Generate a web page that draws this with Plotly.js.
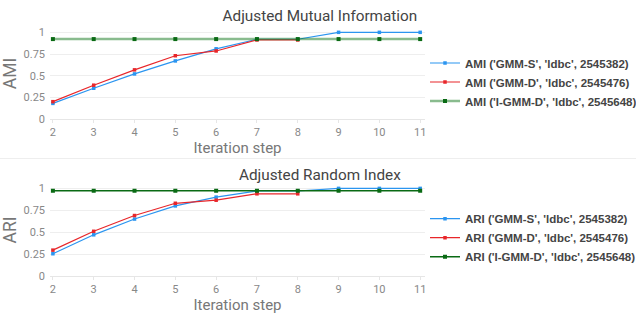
<!DOCTYPE html>
<html><head><meta charset="utf-8">
<script src="https://cdn.plot.ly/plotly-3.0.1.min.js"></script>
<style>
html,body{margin:0;padding:0;background:#fff;}
#c1{width:636px;height:158px;}
#sep{width:636px;height:1px;background:#eeeeee;}
#c2{width:636px;height:157px;}
</style></head>
<body>
<div id="c1"></div><div id="sep"></div><div id="c2"></div>
<script>
const steps = [2,3,4,5,6,7,8,9,10,11];
const stepsD = [2,3,4,5,6,7,8];

const amiGmmS = [0.18,0.355,0.52,0.67,0.81,0.92,0.92,1.0,1.0,1.0];
const amiGmmD = [0.20,0.39,0.567,0.73,0.785,0.912,0.912];
const amiIGmmD = [0.922,0.922,0.922,0.922,0.922,0.922,0.922,0.922,0.922,0.922];

const ariGmmS = [0.254,0.47,0.65,0.80,0.90,0.97,0.97,1.0,1.0,1.0];
const ariGmmD = [0.295,0.51,0.69,0.83,0.865,0.938,0.938];
const ariIGmmD = [0.973,0.973,0.973,0.973,0.973,0.973,0.973,0.973,0.973,0.973];

const labelsAmi = ["AMI ('GMM-S', 'ldbc', 2545382)","AMI ('GMM-D', 'ldbc', 2545476)","AMI ('I-GMM-D', 'ldbc', 2545648)"];
const labelsAri = ["ARI ('GMM-S', 'ldbc', 2545382)","ARI ('GMM-D', 'ldbc', 2545476)","ARI ('I-GMM-D', 'ldbc', 2545648)"];

const FONT = 'Roboto, "Open Sans", sans-serif';
const BLUE = '#2b95f0', RED = '#e8262a', GREEN = '#0a6a14';

function traces(s, d, g, labels, greenLine){
  return [
    {x: steps, y: s, name: labels[0], mode: 'lines+markers', line:{color:BLUE,width:1.2}, marker:{color:BLUE,size:3.5,symbol:'square'}},
    {x: stepsD, y: d, name: labels[1], mode: 'lines+markers', line:{color:RED,width:1.2}, marker:{color:RED,size:3.5,symbol:'square'}},
    {x: steps, y: g, name: labels[2], mode: 'lines+markers', line:greenLine, marker:{color:GREEN,size:4,symbol:'square'}}
  ];
}

function layout(title, ytitle, h, t, b, legY){
  return {
    width: 636, height: h,
    margin: {l:50, r:196, t:t, b:b},
    paper_bgcolor:'#fff', plot_bgcolor:'#fff',
    font: {family: FONT, color:'#888', size:11},
    title: {text: title, x:0.503, xanchor:'center', y: 1-16/h, yanchor:'middle', font:{family:FONT, size:15.3, color:'#444'}},
    xaxis: {range:[1.929,11.118], tickvals: steps, ticktext: steps.map(String), showgrid:false, zeroline:false,
            showline:false, ticks:'outside', ticklen:3, tickcolor:'#e6e6e6', tickfont:{size:11,color:'#888'},
            title:{text:'Iteration step', font:{size:15,color:'#777'}, standoff:2}},
    yaxis: {range:[0,1.05], tickvals:[0,0.25,0.5,0.75,1], ticktext:['0','0.25','0.5','0.75','1'],
            showgrid:true, gridcolor:'#eeeeee', zeroline:true, zerolinecolor:'#e6e6e6', zerolinewidth:1,
            tickfont:{size:11,color:'#888'}, ticklabelstandoff:4,
            title:{text: ytitle, font:{size:17.5,color:'#777'}, standoff:3}},
    showlegend: true,
    legend: {xref:'container', yref:'container', x:425/636, xanchor:'left', y:legY, yanchor:'middle',
             font:{family:'"Liberation Sans", Arial, sans-serif', size:11.5, color:'#444', weight:'bold'},
             bgcolor:'rgba(0,0,0,0)', itemwidth:30}
  };
}

Plotly.newPlot('c1', traces(amiGmmS, amiGmmD, amiIGmmD, labelsAmi, {color:'rgba(20,120,30,0.5)', width:2.5}),
  layout('Adjusted Mutual Information','AMI',158,28,39,1-82/158), {displayModeBar:false, staticPlot:true});
Plotly.newPlot('c2', traces(ariGmmS, ariGmmD, ariIGmmD, labelsAri, {color:GREEN, width:1.5}),
  layout('Adjusted Random Index','ARI',157,25,40,1-78.7/157), {displayModeBar:false, staticPlot:true});
</script>
</body></html>
